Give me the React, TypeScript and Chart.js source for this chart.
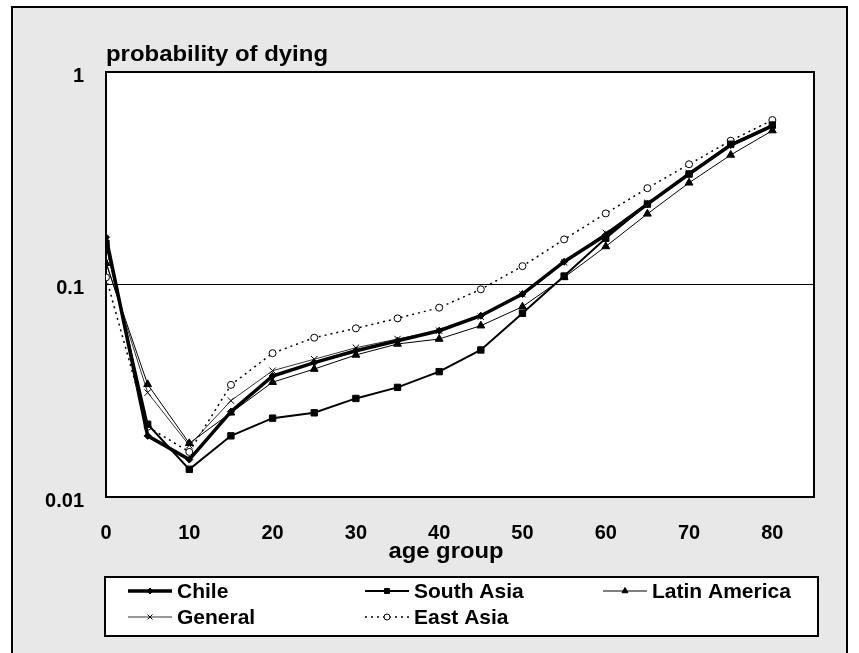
import React, { useEffect, useRef } from 'react';
import { Chart, registerables } from 'chart.js';
import { drawPoint } from 'chart.js/helpers';

Chart.register(...registerables);

const ages = [0, 5, 10, 15, 20, 25, 30, 35, 40, 45, 50, 55, 60, 65, 70, 75, 80];
const chile = [0.167, 0.0194, 0.015, 0.0252, 0.0371, 0.0429, 0.0488, 0.0544, 0.0606, 0.0713, 0.0902, 0.128, 0.171, 0.239, 0.331, 0.453, 0.557];
const southAsia = [0.156, 0.022, 0.0135, 0.0194, 0.0235, 0.0249, 0.0291, 0.0328, 0.0389, 0.0492, 0.0732, 0.1096, 0.165, 0.239, 0.331, 0.457, 0.563];
const latinAmerica = [0.126, 0.0339, 0.0179, 0.0249, 0.0347, 0.04, 0.0466, 0.0525, 0.0554, 0.064, 0.0786, 0.108, 0.151, 0.215, 0.301, 0.407, 0.53];
const general = [0.128, 0.031, 0.0175, 0.0284, 0.0393, 0.0445, 0.0504, 0.0554, 0.0606, 0.0705, 0.09, 0.127, 0.175, 0.242, 0.335, 0.46, 0.56];
const eastAsia = [0.108, 0.0214, 0.0163, 0.0337, 0.0475, 0.0562, 0.0622, 0.0693, 0.0778, 0.0949, 0.122, 0.163, 0.216, 0.284, 0.368, 0.475, 0.594];

const xTickValues = [0, 10, 20, 30, 40, 50, 60, 70, 80];
const yTickValues = [0.01, 0.1, 1];
const yAxisTitle = 'probability of dying';
const xAxisTitle = 'age group';

const FONT = '"Liberation Sans", Arial, sans-serif';

const toPoints = (vals: number[]) => vals.map((v, i) => ({ x: ages[i], y: v }));

const decorPlugin = {
  id: 'decor',
  beforeDraw(chart: any) {
    const { ctx, chartArea: a } = chart;
    ctx.save();
    ctx.fillStyle = '#ffffff';
    ctx.fillRect(0, 0, chart.width, chart.height);
    ctx.fillStyle = '#e8e8e8';
    ctx.fillRect(12, 7, 835, 660);
    ctx.strokeStyle = '#000';
    ctx.lineWidth = 2;
    ctx.strokeRect(12, 7, 835, 660);
    ctx.fillStyle = '#ffffff';
    ctx.fillRect(a.left, a.top, a.right - a.left, a.bottom - a.top);
    ctx.restore();
  },
  beforeDatasetsDraw(chart: any) {
    const { ctx, chartArea: a } = chart;
    ctx.save();
    ctx.strokeStyle = '#000';
    ctx.lineWidth = 2;
    ctx.strokeRect(a.left, a.top, a.right - a.left, a.bottom - a.top);
    ctx.restore();
  },
  afterDraw(chart: any) {
    const { ctx, chartArea: a } = chart;
    ctx.save();
    ctx.fillStyle = '#000';
    ctx.font = `bold 22px ${FONT}`;
    ctx.textBaseline = 'alphabetic';
    ctx.textAlign = 'left';
    {
      const w = ctx.measureText(yAxisTitle).width;
      ctx.save();
      ctx.translate(a.left, a.top - 11);
      ctx.scale(222 / w, 1);
      ctx.fillText(yAxisTitle, 0, 0);
      ctx.restore();
    }
    {
      const w = ctx.measureText(xAxisTitle).width;
      ctx.save();
      ctx.translate(446, 558);
      ctx.scale(115 / w, 1);
      ctx.textAlign = 'center';
      ctx.fillText(xAxisTitle, 0, 0);
      ctx.restore();
    }
    const lx = 105, ly = 577, lw = 713, lh = 59;
    ctx.fillStyle = '#ffffff';
    ctx.fillRect(lx, ly, lw, lh);
    ctx.strokeStyle = '#000';
    ctx.lineWidth = 2;
    ctx.strokeRect(lx, ly, lw, lh);
    const cols = [128, 365, 603];
    const rows = [591, 617];
    chart.data.datasets.forEach((ds: any, i: number) => {
      const cx = cols[i % 3];
      const cy = rows[Math.floor(i / 3)];
      ctx.save();
      ctx.strokeStyle = ds.borderColor;
      ctx.lineWidth = ds.borderWidth;
      ctx.setLineDash(ds.borderDash || []);
      ctx.beginPath();
      ctx.moveTo(cx, cy);
      ctx.lineTo(cx + 44, cy);
      ctx.stroke();
      ctx.setLineDash([]);
      ctx.fillStyle = ds.pointBackgroundColor;
      ctx.strokeStyle = ds.pointBorderColor;
      ctx.lineWidth = ds.pointBorderWidth;
      drawPoint(ctx, { pointStyle: ds.pointStyle, radius: ds.legendRadius, borderWidth: ds.pointBorderWidth, rotation: 0 }, cx + 22, cy);
      ctx.restore();
      ctx.fillStyle = '#000';
      ctx.font = `bold 21px ${FONT}`;
      ctx.textBaseline = 'middle';
      ctx.textAlign = 'left';
      ctx.fillText(ds.label, cx + 49, cy + 1);
    });
    ctx.restore();
  },
};

export default function App() {
  const ref = useRef<HTMLCanvasElement | null>(null);
  useEffect(() => {
    if (!ref.current) return;
    const chart = new Chart(ref.current, {
      type: 'line',
      data: {
        datasets: [
          {
            label: 'Chile', data: toPoints(chile), borderColor: '#000', borderWidth: 3.5,
            pointStyle: 'rectRot', pointRadius: 3.5, pointBackgroundColor: '#000', pointBorderColor: '#000', pointBorderWidth: 1,
            legendRadius: 3, order: 1,
          } as any,
          {
            label: 'South Asia', data: toPoints(southAsia), borderColor: '#000', borderWidth: 2,
            pointStyle: 'rect', pointRadius: 4.5, pointBackgroundColor: '#000', pointBorderColor: '#000', pointBorderWidth: 1,
            legendRadius: 3.5, order: 2,
          } as any,
          {
            label: 'Latin America', data: toPoints(latinAmerica), borderColor: '#000', borderWidth: 1,
            pointStyle: 'triangle', pointRadius: 4.5, pointBackgroundColor: '#000', pointBorderColor: '#000', pointBorderWidth: 1,
            legendRadius: 3.5, order: 3,
          } as any,
          {
            label: 'General', data: toPoints(general), borderColor: '#333', borderWidth: 1,
            pointStyle: 'crossRot', pointRadius: 4.5, pointBackgroundColor: '#000', pointBorderColor: '#000', pointBorderWidth: 1,
            legendRadius: 3.5, order: 4,
          } as any,
          {
            label: 'East Asia', data: toPoints(eastAsia), borderColor: '#000', borderWidth: 1.5, borderDash: [2, 4],
            pointStyle: 'circle', pointRadius: 3.5, pointBackgroundColor: '#fff', pointBorderColor: '#000', pointBorderWidth: 1,
            legendRadius: 3, order: 5,
          } as any,
        ],
      },
      options: {
        animation: false,
        responsive: false,
        devicePixelRatio: 1,
        parsing: false as any,
        layout: { padding: { top: 72, right: 45, left: 0, bottom: 0 } },
        plugins: { legend: { display: false }, tooltip: { enabled: false }, title: { display: false } },
        elements: { line: { tension: 0 } },
        scales: {
          x: {
            type: 'linear', min: 0, max: 85,
            afterBuildTicks: (s: any) => { s.ticks = xTickValues.map((v) => ({ value: v })); },
            afterFit: (s: any) => { s.height = 653 - 497; },
            grid: { display: false, drawTicks: false },
            border: { display: false },
            ticks: { color: '#000', font: { family: FONT, size: 20, weight: 'bold' }, padding: 24, maxRotation: 0, autoSkip: false },
          },
          y: {
            type: 'logarithmic', min: 0.01, max: 1,
            afterBuildTicks: (s: any) => { s.ticks = yTickValues.map((v) => ({ value: v })); },
            afterFit: (s: any) => { s.width = 106; },
            grid: { color: '#000', lineWidth: 1, drawTicks: false },
            border: { display: false },
            ticks: {
              color: '#000', font: { family: FONT, size: 20, weight: 'bold' }, padding: 22, autoSkip: false, labelOffset: 4,
              callback: (v: any) => String(v),
            },
          },
        },
      } as any,
      plugins: [decorPlugin],
    });
    return () => chart.destroy();
  }, []);
  return (
    <div style={{ position: 'fixed', left: 0, top: 0, width: 859, height: 653 }}>
      <canvas ref={ref} width={859} height={653} style={{ display: 'block', width: 859, height: 653 }} />
    </div>
  );
}
